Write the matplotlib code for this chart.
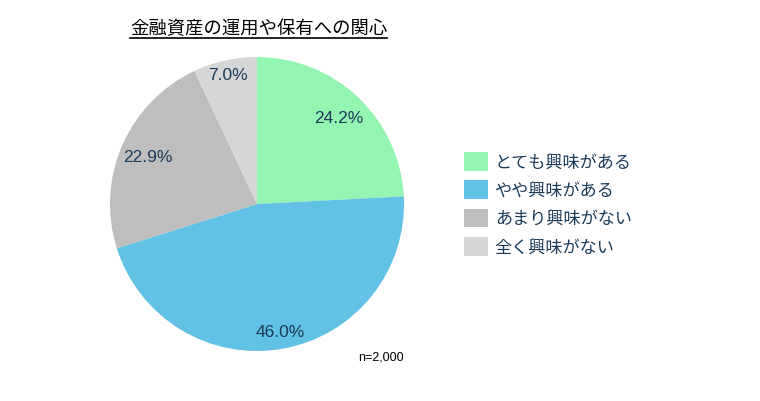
import matplotlib.pyplot as plt
from matplotlib.patches import Patch
from matplotlib.lines import Line2D
import numpy as np

labels = ["とても興味がある", "やや興味がある", "あまり興味がない", "全く興味がない"]
shares = [24.2, 46.0, 22.9, 7.0]
colors = ["#93F5B1", "#61C2E5", "#BEBEBE", "#D5D6D8"]
label_dist = [0.81, 0.88, 0.81, 0.90]

plt.rcParams["font.family"] = ["Noto Sans CJK JP", "DejaVu Sans"]
navy = "#1B3A57"

fig = plt.figure(figsize=(7.6, 4.02), dpi=100)
W, H = 760, 402
cx, cy, r = 257, 205, 147
ax = fig.add_axes([(cx - r) / W, (H - cy - r) / H, 2 * r / W, 2 * r / H])

wedges, _ = ax.pie(shares, colors=colors, startangle=90, counterclock=False,
                   radius=1.0, wedgeprops=dict(linewidth=0))
ax.set_xlim(-1, 1)
ax.set_ylim(-1, 1)
ax.set_aspect("equal")

cum = 0
for s, d in zip(shares, label_dist):
    mid = (cum + s / 2) / sum(shares) * 2 * np.pi
    cum += s
    ax.text(d * np.sin(mid), d * np.cos(mid), f"{s:.1f}%", ha="center", va="center",
            fontsize=12.5, color=navy, family="Liberation Sans")

title = fig.text(130 / W, 1 - 29 / H, "金融資産の運用や保有への関心", fontsize=13.2,
                 ha="left", va="center", color="black")
fig.canvas.draw()
bb = title.get_window_extent()
fig.add_artist(Line2D([bb.x0 / W, bb.x1 / W], [(H - 38.5) / H, (H - 38.5) / H],
                      transform=fig.transFigure, color="black", linewidth=1.2))

fig.text(358 / W, 1 - 358 / H, "n=2,000", fontsize=9, ha="left", va="center",
         family="Liberation Sans", color="black")

handles = [Patch(facecolor=c, edgecolor="none") for c in colors]
leg = fig.legend(handles, labels, loc="upper left", bbox_to_anchor=(464 / W, 1 - 153 / H),
                 frameon=False, fontsize=12.3, handlelength=1.4, handleheight=1.3,
                 handletextpad=0.4, labelspacing=0.55, borderaxespad=0, borderpad=0)
for t in leg.get_texts():
    t.set_color(navy)

fig.savefig("out.png", dpi=100)
